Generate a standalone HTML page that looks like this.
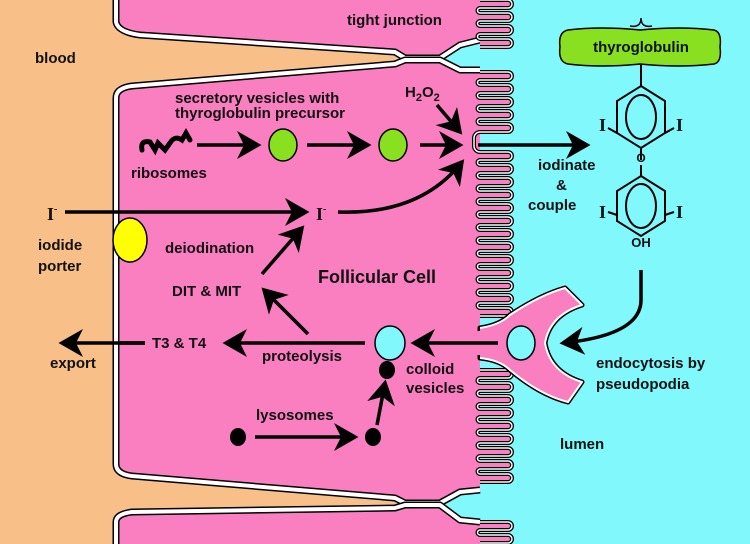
<!DOCTYPE html>
<html><head><meta charset="utf-8"><style>
html,body{margin:0;padding:0;background:#f8c088}
svg{display:block}
text{font-family:"Liberation Sans",sans-serif;font-size:15px;font-weight:bold;fill:#111}
</style></head><body>
<svg width="750" height="544" viewBox="0 0 750 544" xmlns="http://www.w3.org/2000/svg">
<defs>
<marker id="ah" markerWidth="8" markerHeight="8" refX="6" refY="4" orient="auto" markerUnits="strokeWidth">
<path d="M0,0 L7,4 L0,8 L2,4 Z" fill="#000"/></marker>
</defs>
<rect x="0" y="0" width="750" height="544" fill="#f8c088"/>
<rect x="478" y="0" width="272" height="544" fill="#80f8fc"/>
<path d="M440,58 L460,45 L480,40 L480,70 L460,70 L440,60 Z" fill="#80f8fc"/>
<path d="M440,503 L460,492 L480,490 L480,522 L460,520 L440,505 Z" fill="#80f8fc"/>
<path d="M116,0 V22 Q118,32 140,35 L395,52 L405,58 L440,58 L460,45 L480,40 L480,0 Z" fill="#fa7fc0"/>
<path d="M480,70 L460,70 L440,60 L405,60 L395,64 L132,86 Q116,88 116,98 V464 Q116,474 132,476 L395,498 L405,503 L440,503 L460,492 L480,490 Z" fill="#fa7fc0"/>
<path d="M116,544 V522 Q116,514 132,512 L395,508 L405,505 L440,505 L460,520 L480,522 L480,544 Z" fill="#fa7fc0"/>
<g fill="none" stroke-linejoin="round">
<path d="M116,0 V22 Q118,32 140,35 L395,52 L405,58 L440,58 L460,45 L480,40" stroke="#000" stroke-width="7"/>
<path d="M116,0 V22 Q118,32 140,35 L395,52 L405,58 L440,58 L460,45 L480,40" stroke="#fff" stroke-width="4"/>
<path d="M480,70 L460,70 L440,60 L405,60 L395,64 L132,86 Q116,88 116,98 V464 Q116,474 132,476 L395,498 L405,503 L440,503 L460,492 L480,490" stroke="#000" stroke-width="7"/>
<path d="M480,70 L460,70 L440,60 L405,60 L395,64 L132,86 Q116,88 116,98 V464 Q116,474 132,476 L395,498 L405,503 L440,503 L460,492 L480,490" stroke="#fff" stroke-width="4"/>
<path d="M116,544 V522 Q116,514 132,512 L395,508 L405,505 L440,505 L460,520 L480,522" stroke="#000" stroke-width="7"/>
<path d="M116,544 V522 Q116,514 132,512 L395,508 L405,505 L440,505 L460,520 L480,522" stroke="#fff" stroke-width="4"/>
</g>
<defs>
<path id="v1" d="M480,0 h28 a4,4 0 0 1 0,8 h-28 a2.5,2.5 0 0 0 0,5 h28 a4,4 0 0 1 0,8 h-28 a2.5,2.5 0 0 0 0,5 h28 a4,4 0 0 1 0,8 h-28 a2.5,2.5 0 0 0 0,5 h28 a4,4 0 0 1 0,8 h-28"/>
<path id="v2" d="M480,72 h28 a4,4 0 0 1 0,8 h-28 a2.5,2.5 0 0 0 0,5 h28 a4,4 0 0 1 0,8 h-28 a2.5,2.5 0 0 0 0,5 h28 a4,4 0 0 1 0,8 h-28 a2.5,2.5 0 0 0 0,5 h28 a4,4 0 0 1 0,8 h-28 a2.5,2.5 0 0 0 0,5 h28 a4,4 0 0 1 0,8 h-28 a6,6 0 0 0 -6,6 v8 a6,6 0 0 0 6,6 h28 a4,4 0 0 1 0,8 h-28 a2.5,2.5 0 0 0 0,5 h28 a4,4 0 0 1 0,8 h-28 a2.5,2.5 0 0 0 0,5 h28 a4,4 0 0 1 0,8 h-28 a2.5,2.5 0 0 0 0,5 h28 a4,4 0 0 1 0,8 h-28 a2.5,2.5 0 0 0 0,5 h28 a4,4 0 0 1 0,8 h-28 a2.5,2.5 0 0 0 0,5 h28 a4,4 0 0 1 0,8 h-28 a2.5,2.5 0 0 0 0,5 h28 a4,4 0 0 1 0,8 h-28 a2.5,2.5 0 0 0 0,5 h28 a4,4 0 0 1 0,8 h-28 a2.5,2.5 0 0 0 0,5 h28 a4,4 0 0 1 0,8 h-28 a2.5,2.5 0 0 0 0,5 h28 a4,4 0 0 1 0,8 h-28 a2.5,2.5 0 0 0 0,5 h28 a4,4 0 0 1 0,8 h-28 a2.5,2.5 0 0 0 0,5 h28 a4,4 0 0 1 0,8 h-28 a2.5,2.5 0 0 0 0,5 h28 a4,4 0 0 1 0,8 h-28"/>
<path id="v3" d="M480,370 h28 a4,4 0 0 1 0,8 h-28 a2.5,2.5 0 0 0 0,5 h28 a4,4 0 0 1 0,8 h-28 a2.5,2.5 0 0 0 0,5 h28 a4,4 0 0 1 0,8 h-28 a2.5,2.5 0 0 0 0,5 h28 a4,4 0 0 1 0,8 h-28 a2.5,2.5 0 0 0 0,5 h28 a4,4 0 0 1 0,8 h-28 a2.5,2.5 0 0 0 0,5 h28 a4,4 0 0 1 0,8 h-28 a2.5,2.5 0 0 0 0,5 h28 a4,4 0 0 1 0,8 h-28 a2.5,2.5 0 0 0 0,5 h28 a4,4 0 0 1 0,8 h-28 a2.5,2.5 0 0 0 0,5 h28 a4,4 0 0 1 0,8 h-28"/>
<path id="v4" d="M480,522 h28 a4,4 0 0 1 0,8 h-28 a2.5,2.5 0 0 0 0,5 h28 a4,4 0 0 1 0,8 h-28"/>
</defs>
<g stroke-linejoin="round">
<use href="#v1" stroke="#000" stroke-width="4" fill="#fa7fc0"/><use href="#v1" stroke="#fff" stroke-width="1.5" fill="none"/>
<use href="#v2" stroke="#000" stroke-width="4" fill="#fa7fc0"/><use href="#v2" stroke="#fff" stroke-width="1.5" fill="none"/>
<use href="#v3" stroke="#000" stroke-width="4" fill="#fa7fc0"/><use href="#v3" stroke="#fff" stroke-width="1.5" fill="none"/>
<use href="#v4" stroke="#000" stroke-width="4" fill="#fa7fc0"/><use href="#v4" stroke="#fff" stroke-width="1.5" fill="none"/>
</g>
<path d="M480,328 Q500,325 510,315 Q540,295 565,288 L582,305 Q550,315 545,343 Q550,372 582,382 L568,402 Q540,395 510,370 Q500,360 480,358 Z" fill="#fa7fc0" stroke="#000" stroke-width="5" stroke-linejoin="round"/>
<path d="M480,328 Q500,325 510,315 Q540,295 565,288 L582,305 Q550,315 545,343 Q550,372 582,382 L568,402 Q540,395 510,370 Q500,360 480,358" fill="#fa7fc0" stroke="#fff" stroke-width="2" stroke-linejoin="round"/>
<rect x="470" y="331" width="14" height="24" fill="#fa7fc0"/>
<ellipse cx="521" cy="343" rx="14" ry="17" fill="#80f8fc" stroke="#000" stroke-width="1.5"/>
<g stroke="#000" stroke-width="3.5" fill="none" marker-end="url(#ah)">
<line x1="197" y1="145" x2="258" y2="145"/>
<line x1="307" y1="145" x2="368" y2="145"/>
<line x1="420" y1="145" x2="460" y2="145"/>
<line x1="437" y1="105" x2="460" y2="132"/>
<line x1="478" y1="145" x2="587" y2="145"/>
<line x1="65" y1="212" x2="306" y2="212"/>
<path d="M338,212 Q420,215 462,162"/>
<line x1="262" y1="274" x2="302" y2="228"/>
<line x1="308" y1="334" x2="264" y2="290"/>
<line x1="365" y1="343" x2="226" y2="343"/>
<line x1="145" y1="343" x2="62" y2="343"/>
<line x1="498" y1="343" x2="414" y2="343"/>
<line x1="255" y1="437" x2="355" y2="437"/>
<line x1="377" y1="425" x2="385" y2="383"/>
<path d="M641,270 V300 Q641,335 563,343"/>
</g>
<line x1="120" y1="343" x2="145" y2="343" stroke="#000" stroke-width="3.5"/>
<ellipse cx="283" cy="145" rx="14" ry="16" fill="#88e020" stroke="#000" stroke-width="1.5"/>
<ellipse cx="393" cy="145" rx="14" ry="16" fill="#88e020" stroke="#000" stroke-width="1.5"/>
<ellipse cx="130" cy="240" rx="17" ry="22" fill="#ffff00" stroke="#000" stroke-width="1.5"/>
<ellipse cx="390" cy="343" rx="15" ry="17" fill="#80f8fc" stroke="#000" stroke-width="1.5"/>
<ellipse cx="387" cy="370" rx="8" ry="9" fill="#000"/>
<ellipse cx="238" cy="437" rx="8" ry="9" fill="#000"/>
<ellipse cx="373" cy="437" rx="8" ry="9" fill="#000"/>
<path d="M142,150 Q140,140 150,142 L155,150 L158,143 L165,150 L170,143 Q175,135 182,140 L186,133 L190,140" stroke="#000" stroke-width="5" fill="none" stroke-linecap="round"/>
<path d="M568,30 Q600,26 640,30 Q680,26 714,30 Q722,32 720,47 Q722,62 714,64 Q680,68 640,64 Q600,68 568,64 Q558,62 560,47 Q558,32 568,30 Z" fill="#88e020" stroke="#000" stroke-width="1.5"/>
<path d="M630,26 Q641,28 641,18 Q641,28 652,26" stroke="#000" stroke-width="1.5" fill="none"/>
<text x="641" y="52" text-anchor="middle">thyroglobulin</text>
<g stroke="#000" stroke-width="2" fill="none">
<line x1="641" y1="65" x2="641" y2="86"/>
<polygon points="641,86 665,101 665,133 641,148 617,133 617,101"/>
<ellipse cx="641" cy="117" rx="15" ry="22"/>
<line x1="617" y1="133" x2="608" y2="128"/><line x1="665" y1="133" x2="674" y2="128"/>
<line x1="641" y1="148" x2="641" y2="160"/><line x1="641" y1="165" x2="641" y2="176"/>
<polygon points="641,176 665,191 665,221 641,236 617,221 617,191"/>
<ellipse cx="641" cy="206" rx="15" ry="22"/>
<line x1="617" y1="215" x2="608" y2="212"/><line x1="665" y1="215" x2="674" y2="212"/>
</g>
<text x="599" y="131" style="font-family:'Liberation Serif',serif;font-size:18px">I</text>
<text x="676" y="131" style="font-family:'Liberation Serif',serif;font-size:18px">I</text>
<text x="599" y="218" style="font-family:'Liberation Serif',serif;font-size:18px">I</text>
<text x="676" y="218" style="font-family:'Liberation Serif',serif;font-size:18px">I</text>
<text x="641" y="162" text-anchor="middle" style="font-size:12px">O</text>
<text x="641" y="247" text-anchor="middle" style="font-size:13px">OH</text>
<text x="35" y="63">blood</text>
<text x="347" y="25">tight junction</text>
<text x="405" y="97">H<tspan font-size="11" dy="4">2</tspan><tspan dy="-4">O</tspan><tspan font-size="11" dy="4">2</tspan></text>
<text x="175" y="103">secretory vesicles with</text>
<text x="175" y="118">thyroglobulin precursor</text>
<text x="131" y="178">ribosomes</text>
<text x="538" y="170">iodinate</text>
<text x="556" y="190">&amp;</text>
<text x="528" y="210">couple</text>
<text x="47" y="220" style="font-family:'Liberation Serif',serif;font-size:18px">I<tspan font-size="10" dy="-8">-</tspan></text>
<text x="316" y="220" style="font-family:'Liberation Serif',serif;font-size:18px">I<tspan font-size="10" dy="-8">-</tspan></text>
<text x="38" y="250">iodide</text>
<text x="38" y="271">porter</text>
<text x="165" y="253">deiodination</text>
<text x="318" y="283" style="font-size:18px">Follicular Cell</text>
<text x="172" y="296">DIT &amp; MIT</text>
<text x="152" y="348">T3 &amp; T4</text>
<text x="50" y="368">export</text>
<text x="262" y="361">proteolysis</text>
<text x="406" y="374">colloid</text>
<text x="406" y="393">vesicles</text>
<text x="256" y="420">lysosomes</text>
<text x="596" y="368">endocytosis by</text>
<text x="596" y="389">pseudopodia</text>
<text x="560" y="449">lumen</text>
</svg>
</body></html>
